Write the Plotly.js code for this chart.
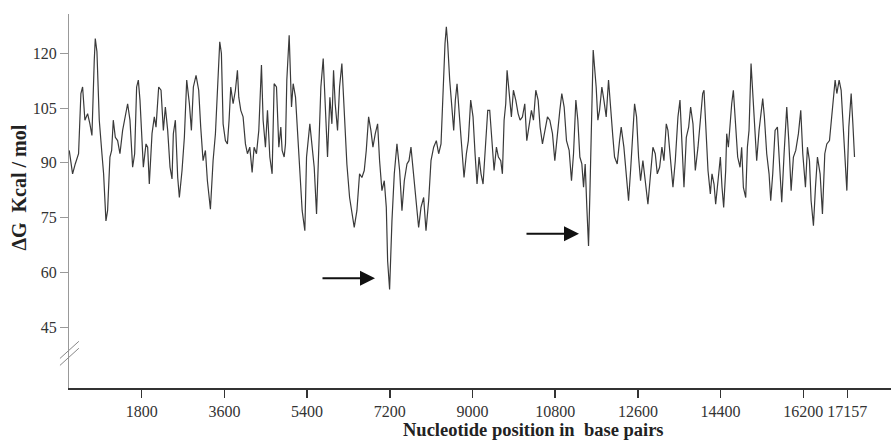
<!DOCTYPE html>
<html>
<head>
<meta charset="utf-8">
<script src="https://cdn.plot.ly/plotly-3.0.1.min.js"></script>
<style>html,body{margin:0;padding:0;background:#fff;}#chart{width:891px;height:444px;}</style>
</head>
<body>
<div id="chart"></div>
<script>
// Nucleotide position (bp)
var positions = [
223,296,354,426,477,514,564,623,673,717,768,790,826,877,935,971,1022,1058,1109,1146,1182,1226,1276,1327,1385,1443,1494,1545,1603,1647,1690,1727,1763,1836,1894,1930,1966,2025,2075,2112,2170,2221,2272,2315,2366,2417,2460,2489,2533,2584,2620,2678,2729,2780,2838,2882,2925,2983,3041,
3085,3136,3187,3230,3296,3354,3405,3448,3499,3535,3572,3622,3666,3702,3739,3790,3840,3884,3913,3957,4007,4058,4102,4153,4204,4247,4298,4349,4407,4443,4494,4538,4589,4639,4683,4734,4785,4828,4857,4901,4930,4959,5010,5061,5097,5148,5191,5242,5293,5351,5388,5460,5511,5555,5606,5656,5700,5751,5802,5845,5896,
5940,5976,6012,6063,6107,6157,6208,6266,6325,6375,6426,6484,6542,6593,6644,6688,6739,6789,6833,6884,6935,6978,7029,7080,7124,7153,7196,7247,7298,7356,7414,7465,7516,7574,7618,7661,7719,7777,7828,7879,7937,7988,8046,8097,8155,8213,8264,8315,8358,8402,8431,8460,8504,8555,8591,8627,8664,8722,8772,
8816,8867,8910,8961,9012,9056,9099,9143,9186,9230,9288,9332,9375,9419,9470,9521,9564,9615,9651,9688,9724,9753,9797,9847,9891,9942,9993,10036,10087,10138,10182,10233,10283,10327,10378,10429,10472,10523,10581,10632,10683,10741,10792,10850,10901,10944,10995,11046,11104,11155,11199,11250,11293,11337,11380,11417,11453,11489,11526,11555,11591,11627,
11692,11729,11765,11816,11860,11910,11961,12005,12056,12092,12150,12201,12237,12295,12346,12397,12441,12491,12528,12571,12615,12658,12709,12760,12818,12869,12927,12978,13022,13073,13123,13167,13218,13254,13305,13363,13414,13472,13516,13559,13603,13654,13705,13748,13799,13850,13908,13966,14010,14039,14082,14126,14177,14213,14257,14293,14344,14395,14431,14467,14511,
14533,14569,14605,14642,14678,14729,14772,14823,14859,14896,14947,14983,15019,15063,15114,15150,15186,15237,15281,15317,15353,15404,15455,15491,15535,15586,15637,15680,15731,15782,15840,15884,15935,15985,16036,16094,16145,16189,16247,16290,16334,16370,16421,16465,16508,16566,16617,16668,16712,16770,16821,16857,16893,16930,16980,17024,17075,17111,17148,17191,17242,17279,17315
];
// Free energy (Kcal / mol)
var deltaG = [
93.4,87,89.7,92.5,109,110.8,101.7,103.5,100.7,97.5,118.2,124.1,120.5,101.7,92.5,87,74.1,76.9,91.6,93.4,101.7,97,96.1,92.5,98.9,102.6,106.2,101.7,88.8,92.5,110.8,112.7,107.2,88.8,95.2,94.3,84.2,98,102.6,99.8,110.8,109.9,98.9,105.3,98.9,88.8,85.6,98,101.7,86,80.5,87.9,97,112.7,106.2,98.9,110.8,114,109.9,
99.8,90.6,93.4,85.1,77.3,90.6,98,108,123.2,120,100.7,96.1,95.2,101.7,110.8,106.2,109.9,115.4,108,104.4,102.6,95.2,92.5,94.3,87.4,94.3,92.5,98.9,116.8,101.7,94.3,104.4,91.6,87,111.7,110.8,94.3,99.8,93.4,91.6,95.2,112.7,125,105.3,111.7,108,98,87.9,76.9,71.4,91.6,100.7,95.2,88.8,76,92.5,110.8,118.6,103.5,91.6,108,
100.7,115.4,106.2,98.9,110.8,117.2,102.6,89.7,80.5,76.9,72.3,76.9,87,86,87.9,93.4,102.6,98.9,94.3,98,100.7,90.6,82.4,85.1,77.8,63.1,55.3,74.1,87,95.2,87.9,76.9,85.1,89.7,90.6,94.3,86,77.8,72.3,77.8,80.5,71.4,79.6,90.6,94.3,96.1,92.5,95.2,110.8,122.7,127.3,122.7,112.7,105.3,98.9,107.2,111.7,101.7,93.4,
86,92.5,96.1,107.2,102.6,92.5,84.2,91.6,87,84.2,97,104.4,104.4,97,87.9,94.3,91.6,90.6,87,101.7,106.2,115.4,109,102.6,109.9,107.2,103.5,101.7,102.6,106.2,96.1,100.7,104.4,101.7,109.9,107.2,99.8,95.2,99.8,102.6,101.7,98,90.6,98.9,104.4,109,105.3,96.1,93.4,85.1,92.5,107.2,101.7,91.6,89.7,83.3,89.7,77.8,67.2,81.5,101.7,120.9,
110.8,101.7,104.4,110.8,107.2,102.6,112.7,104.4,97,91.6,89.7,96.1,99.8,94.3,86,79.6,87.9,98.9,106.2,102.6,91.6,85.1,90.6,85.1,78.7,86,94.3,92.5,87,88.8,94.3,90.6,100.7,98.9,90.6,83.3,90.6,102.6,107.2,95.2,83.3,97,99.8,105.3,100.7,87.9,94.3,102.6,109,109.9,98,87.9,81.5,87,84.2,78.7,85.1,91.6,83.3,77.8,87.9,
98,94.3,101.7,106.2,109.9,98.9,91.6,88.8,94.3,83.3,80.5,94.3,98.9,117.2,107.2,97,90.6,98.9,104.4,107.6,102.6,92.5,87,79.6,87,98.9,99.8,88.8,79.2,92.5,105.3,96.1,82.4,91.6,93.4,98,104.4,92.5,83.3,94.3,90.6,79.6,72.8,83.3,91.6,87,76,92.5,95.2,96.1,103.5,107.2,112.7,109,112.7,109.9,98.9,90.6,82.4,99.8,109,100.7,91.6
];
var xTickVals = [1800,3600,5400,7200,9000,10800,12600,14400,16200,17157];
var xTickText = ['1800','3600','5400','7200','9000','10800','12600','14400','16200','17157'];
var yTickVals = [45,60,75,90,105,120];
var yTickText = ['45','60','75','90','105','120'];
// Arrow tips pointing at the two deepest minima
var arrowX = [6878, 11318];
var arrowY = [58.4, 70.6];

var serif = 'Liberation Serif, Times New Roman, serif';

var trace = {
  x: positions, y: deltaG, type: 'scatter', mode: 'lines',
  line: {color: '#3a3a3a', width: 1.2},
  hoverinfo: 'skip'
};

var annotations = arrowX.map(function (ax, i) {
  return {
    x: ax, y: arrowY[i], xref: 'x', yref: 'y', text: '',
    showarrow: true, ax: -54, ay: 0,
    arrowhead: 2, arrowsize: 1.5, arrowwidth: 2, arrowcolor: '#111'
  };
});
annotations.push({
  xref: 'paper', yref: 'paper', x: -0.062, y: 0.536,
  xanchor: 'center', yanchor: 'middle', textangle: -90, showarrow: false,
  text: '<b>\u0394G\u00a0 Kcal / mol</b>', font: {family: serif, size: 20, color: '#222'}
});
annotations.push({
  xref: 'paper', yref: 'paper', x: 0.565, y: -0.112,
  xanchor: 'center', yanchor: 'middle', showarrow: false, borderpad: 0,
  text: '<b>Nucleotide position in\u00a0 base pairs</b>', font: {family: serif, size: 18.5, color: '#222'}
});

var layout = {
  width: 891, height: 444,
  margin: {l: 69, r: 0, t: 14, b: 56},
  paper_bgcolor: '#fff', plot_bgcolor: '#fff',
  showlegend: false,
  font: {family: serif, size: 16, color: '#333'},
  xaxis: {
    range: [218, 18109], tickmode: 'array', tickvals: xTickVals, ticktext: xTickText,
    showgrid: false, zeroline: false, showline: true, linecolor: '#333', linewidth: 2,
    ticks: 'outside', ticklen: 8, tickwidth: 1.5, tickcolor: '#333',
    tickfont: {family: serif, size: 16, color: '#333'}
  },
  yaxis: {
    range: [28.3, 130.8], tickmode: 'array', tickvals: yTickVals, ticktext: yTickText,
    showgrid: false, zeroline: false, showline: true, linecolor: '#999', linewidth: 1,
    ticks: 'outside', ticklen: 8, tickwidth: 1, tickcolor: '#999',
    tickfont: {family: serif, size: 16, color: '#333'}
  },
  shapes: [
    {type: 'line', xref: 'paper', yref: 'y', x0: -0.011, x1: 0.012, y0: 34.5, y1: 39.2, line: {color: '#888', width: 1}},
    {type: 'line', xref: 'paper', yref: 'y', x0: -0.011, x1: 0.012, y0: 36.4, y1: 41.1, line: {color: '#888', width: 1}}
  ],
  annotations: annotations
};

Plotly.newPlot('chart', [trace], layout, {displayModeBar: false, staticPlot: true});
</script>
</body>
</html>
